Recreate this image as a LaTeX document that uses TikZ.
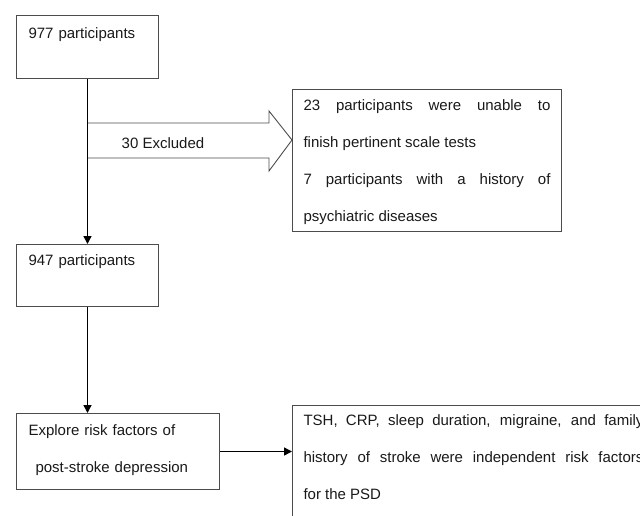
\documentclass[tikz,border=0pt]{standalone}
\usepackage{fontspec}
\setmainfont{Liberation Sans}
\usetikzlibrary{arrows.meta}
\tikzset{
    flowbox/.style={draw=black!70, line width=1pt, anchor=north west, inner xsep=12pt,
        text height=11pt, align=left, text=black!90,
        font=\fontsize{15}{37}\selectfont,
        execute at begin node={\tolerance=10000 \hbadness=10000 }},
    flowline/.style={line width=1.4pt, -{Triangle[length=8pt,width=8pt]}},
    bigarrow/.style={draw=black!70, line width=0.9pt}
}
\begin{document}
\begin{tikzpicture}[x=1pt, y=-1pt]
            \useasboundingbox (0,0) rectangle (640,515);

            \node[flowbox, text width=118pt, inner ysep=12pt, text depth=28pt] (start) at (16,15) {977 participants};
            \node[flowbox, text width=118pt, inner ysep=10pt, text depth=31pt] (kept) at (16,244) {947 participants};
            \node[flowbox, text width=179pt, inner ysep=11pt, text depth=43pt] (explore) at (16,413)
                {Explore risk factors of\\\hspace*{7pt}post-stroke depression};

            \node[flowbox, text width=247pt, inner xsep=11pt, inner ysep=10pt, text depth=111pt, align=justify] (excluded) at (292,89)
                {23 participants were unable to\linebreak finish pertinent scale tests\par
                 7 participants with a history of\linebreak psychiatric diseases};
            \node[flowbox, text width=340pt, inner xsep=11pt, inner ysep=9pt, text depth=110pt, align=justify] (result) at (292,405)
                {TSH, CRP, sleep duration, migraine, and family\linebreak
                 history of stroke were independent risk factors\linebreak for the PSD};

            \draw[bigarrow] (start.south |- 0,123) -- (269,123) -- (269,111) -- (excluded.west |- 0,140)
                -- (269,171) -- (269,158) -- (start.south |- 0,158);
            \node[font=\fontsize{15}{18}\selectfont, text=black!90] (exclabel) at (163,143) {30 Excluded};

            \draw[flowline] (start) -- (kept);
            \draw[flowline] (kept.south) -- (kept.south |- explore.north);
            \draw[flowline] (explore.east) -- (explore.east -| result.west);

        \end{tikzpicture}
\end{document}
